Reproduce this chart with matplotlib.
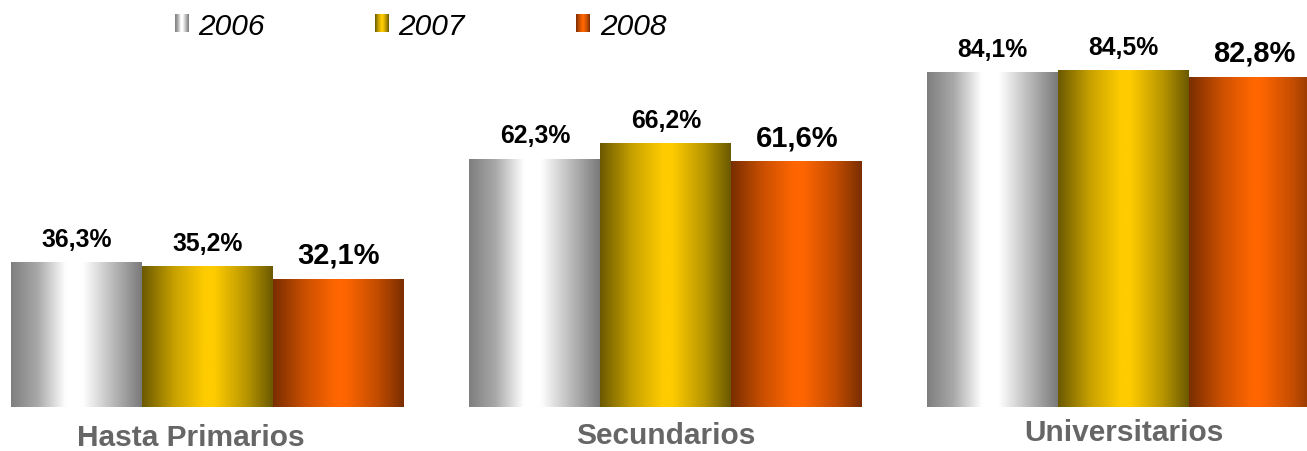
import numpy as np
import matplotlib
matplotlib.use("Agg")
import matplotlib.pyplot as plt
from matplotlib.colors import LinearSegmentedColormap

categories = ["Hasta Primarios", "Secundarios", "Universitarios"]
years = ["2006", "2007", "2008"]
v2006 = [36.3, 62.3, 84.1]
v2007 = [35.2, 66.2, 84.5]
v2008 = [32.1, 61.6, 82.8]
labels2006 = ["36,3%", "62,3%", "84,1%"]
labels2007 = ["35,2%", "66,2%", "84,5%"]
labels2008 = ["32,1%", "61,6%", "82,8%"]

series = [v2006, v2007, v2008]
series_labels = [labels2006, labels2007, labels2008]

cmaps = [
    LinearSegmentedColormap.from_list("g", [(0, "#7f7f7f"), (0.2, "#a8a8a8"), (0.42, "#ffffff"),
                                             (0.55, "#ffffff"), (0.8, "#b4b4b4"), (1, "#7a7a7a")]),
    LinearSegmentedColormap.from_list("y", [(0, "#6b5900"), (0.25, "#c9a200"), (0.48, "#ffcc00"),
                                             (0.55, "#ffcc00"), (0.8, "#b89600"), (1, "#6b5900")]),
    LinearSegmentedColormap.from_list("o", [(0, "#7a2e00"), (0.25, "#cc5000"), (0.48, "#ff6600"),
                                             (0.55, "#ff6600"), (0.8, "#c24c00"), (1, "#7a2e00")]),
]
label_sizes = [17.8, 17.8, 21]

plt.rcParams['font.family'] = ['Liberation Sans', 'DejaVu Sans']

fig = plt.figure(figsize=(13.07, 4.52), dpi=100)
ax = fig.add_axes([0, 44 / 452, 1, 408 / 452])
ax.set_xlim(-0.454, 2.400)
ax.set_ylim(0, 408 / 3.98)
ax.axis("off")

x = np.arange(len(categories))
w = 0.286
grad = np.linspace(0, 1, 256).reshape(1, -1)
for i, (vals, labs) in enumerate(zip(series, series_labels)):
    bars = ax.bar(x + (i - 1) * w, vals, w, color="none", edgecolor="none")
    for b, lab in zip(bars, labs):
        bx, bw, bh = b.get_x(), b.get_width(), b.get_height()
        ax.imshow(grad, cmap=cmaps[i], extent=[bx, bx + bw, 0, bh], aspect="auto",
                  interpolation="bicubic", zorder=2)
        ax.annotate(lab, (bx + bw / 2, bh), xytext=(0, 12), textcoords="offset points",
                    ha="center", va="baseline", fontsize=label_sizes[i], fontweight="bold",
                    color="black")

ax.set_xlim(-0.454, 2.400)
ax.set_ylim(0, 408 / 3.98)

# category labels
cat_offsets = [(-0.037, -27.4), (0.0, -26.0), (0.0, -24.0)]
for xi, cat, (dx, dy) in zip(x, categories, cat_offsets):
    ax.annotate(cat, (xi + dx, 0), xytext=(0, dy), textcoords="offset points",
                ha="center", va="baseline", fontsize=21.5, fontweight="bold", color="#666666",
                annotation_clip=False)

# legend
leg_x = [175, 375, 576]
txt_x = [198, 398, 600]
for i, yr in enumerate(years):
    lx = leg_x[i]
    lax = fig.add_axes([lx / 1307, (452 - 33) / 452, 14 / 1307, 18 / 452])
    lax.imshow(grad, cmap=cmaps[i], aspect="auto", interpolation="nearest",
               extent=[0, 1, 0, 1])
    lax.axis("off")
    fig.text(txt_x[i] / 1307, (452 - 35) / 452, yr, fontsize=21.5, style="italic",
             ha="left", va="baseline", color="black")

fig.savefig("out.png", dpi=100)
